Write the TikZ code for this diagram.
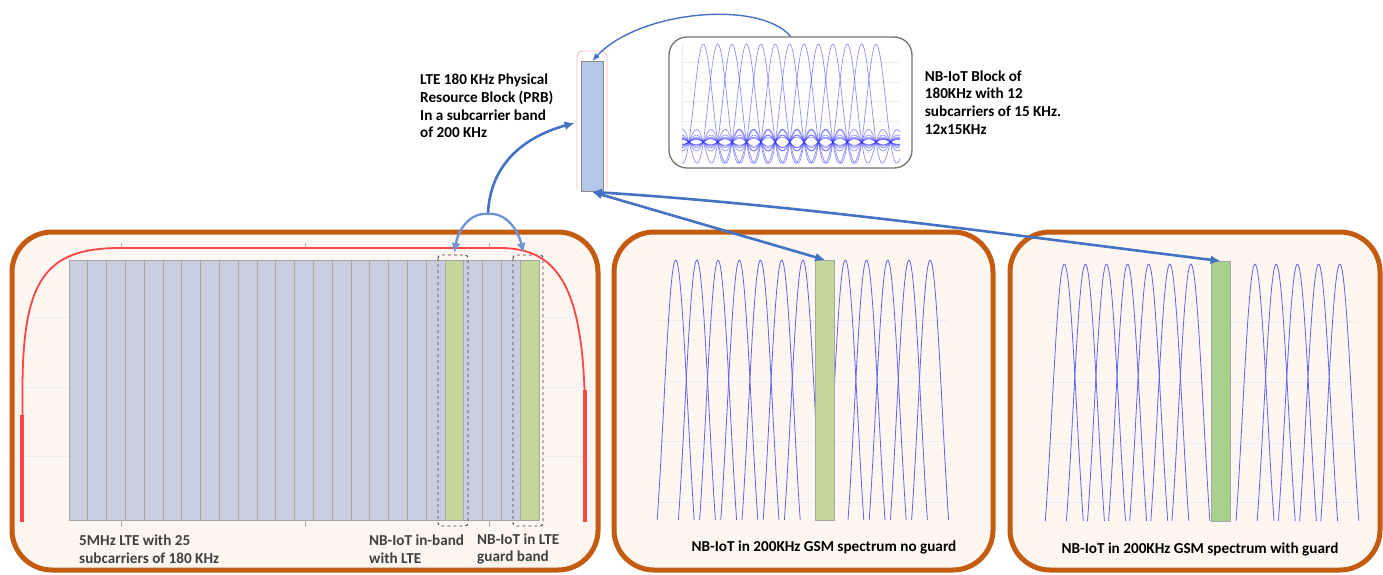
\documentclass[tikz,border=0pt]{standalone}
\usepackage{fontspec}
\setmainfont{Carlito}
\usepackage{tikz}
\usetikzlibrary{arrows.meta,positioning,calc}

\definecolor{panelbrown}{HTML}{C55A11}
\definecolor{panelfill}{HTML}{FEF6F0}
\definecolor{ltebar}{HTML}{C9CEDF}
\definecolor{nbgreen}{HTML}{C3D69B}
\definecolor{nbgreendark}{HTML}{A9D18E}
\definecolor{prbblue}{HTML}{B4C7E7}
\definecolor{arrowblue}{HTML}{4472C4}
\definecolor{arrowlight}{HTML}{7094D4}
\definecolor{maskred}{HTML}{FF4545}
\definecolor{carrier}{HTML}{6060F5}
\definecolor{labelgray}{HTML}{404040}

\tikzset{
  panel/.style={draw=panelbrown, line width=5pt, fill=panelfill, rounded corners=40pt},
  lteslot/.style={draw=black!35, line width=0.8pt, fill=ltebar},
  nbslot/.style={draw=black!35, line width=0.8pt, fill=nbgreen, inner sep=0pt, outer sep=0pt,
    minimum width=19pt, minimum height=260pt},
  dashbox/.style={draw=black!75, dashed, line width=0.9pt, rounded corners=3pt},
  mask/.style={draw=maskred, line width=1.8pt},
  faint/.style={draw=black!7, line width=0.6pt},
  arch/.style={draw=carrier, line width=0.8pt},
  sincline/.style={draw=blue!80, line width=0.7pt, opacity=0.55},
  bigarrow/.style={draw=arrowblue, line width=2.6pt, -{Latex[length=10pt,width=9pt]}},
  branch/.style={draw=arrowlight, line width=2.4pt, -{Latex[length=10pt,width=9pt]}},
  lbl/.style={font=\fontsize{15.2}{17.7}\selectfont\bfseries, align=left, inner sep=0pt}
}

\begin{document}
\begin{tikzpicture}[x=1pt,y=-1pt]
\useasboundingbox (0,0) rectangle (1383,574);

% three spectrum panels
\draw[panel] (12,232) rectangle (598,570);
\draw[panel] (614,232) rectangle (993,570);
\draw[panel] (1010,232) rectangle (1380,570);

% LTE 5 MHz carrier
\foreach \y in {317,387,456} \draw[faint] (22,\y) -- (588,\y);
\foreach \x in {121,305,489} {
  \draw[black!30, line width=0.6pt] (\x,243) -- (\x,249);
  \draw[black!30, line width=0.6pt] (\x,520) -- (\x,527);
}
\foreach \i in {0,...,24} \draw[lteslot] ({69+18.8*\i},260) rectangle ++(18.8,260);
\node[nbslot, minimum width=18.8pt] (inband) at (454.4,390) {};
\node[nbslot, minimum width=18.8pt] (guard) at (529.6,390) {};
\draw[dashbox] (438,255) rectangle (468,526);
\draw[dashbox] (513,255) rectangle (543,526);
\draw[mask] (22.5,522) -- (22.5,390) .. controls (22.5,280) and (45,248) .. (120,248)
  -- (500,248) .. controls (560,248) and (585,290) .. (585,420) -- (585,522);
\draw[mask, line width=3.6pt] (22,415) -- (22,522);
\draw[mask, line width=3.6pt] (585,390) -- (585,522);

\node[lbl, text=labelgray, anchor=west] (lteinfo) at (79,549) {5MHz LTE with 25\\subcarriers of 180 KHz};
\node[lbl, text=labelgray, anchor=west] (inbandinfo) at (369,549) {NB-IoT in-band\\with LTE};
\node[lbl, text=labelgray, anchor=west] (guardinfo) at (477,549) {NB-IoT in LTE\\guard band};

% GSM 200 KHz, no guard
\foreach \y in {320,381,441,502} \draw[faint] (658,\y) -- (948,\y);
\foreach \k in {0,...,6,8,9,10,11,12}
  \draw[arch] plot[domain=-1:1, samples=40, variable=\t]
    ({675.7+21.2*\k+18.5*\t}, {520-260*sin(180*\t)/(pi*\t)});
\node[nbslot] (gsmnoguard) at (825.2,390) {};
\node[lbl, text=black] (noguardinfo) at (824,547) {NB-IoT in 200KHz GSM spectrum no guard};

% GSM 200 KHz, with guard
\foreach \y in {322,382,443,502} \draw[faint] (1045,\y) -- (1358,\y);
\foreach \c in {1064.3,1085.4,1106.5,1127.6,1148.7,1169.8,1190.9,1255,1276.2,1297.4,1318.6,1339.8}
  \draw[arch] plot[domain=-1:1, samples=40, variable=\t]
    ({\c+19*\t}, {521-257*sin(180*\t)/(pi*\t)});
\node[nbslot, fill=nbgreendark, minimum height=260pt] (gsmguard) at (1220.5,391) {};
\node[lbl, text=black] (withguardinfo) at (1200,549) {NB-IoT in 200KHz GSM spectrum with guard};

% PRB and NB-IoT block
\draw[maskred!40, line width=0.8pt] (577,190) -- (577,60) .. controls (577,52) and (579,51) .. (584,51)
  -- (600,51) .. controls (605,51) and (607,52) .. (607,60) -- (607,190);
\node[draw=black!45, line width=0.8pt, fill=prbblue, inner sep=0pt, minimum width=22pt,
  minimum height=130pt] (prb) at (592,126.5) {};
\node[lbl, anchor=north west] (prbinfo) at (420,74) {LTE 180 KHz Physical\\Resource Block (PRB)\\In a subcarrier band\\of 200 KHz};

\node[draw=black!55, line width=1.3pt, fill=white, rounded corners=18pt, inner sep=0pt,
  minimum width=243pt, minimum height=131pt] (nbblock) at (790.5,102.5) {};
\draw[black!8, line width=0.6pt] (682,44) -- (682,160);
\foreach \y in {62,82,101,121} \draw[faint] (682,\y) -- (900,\y);
\foreach \k in {0,...,12}
  \draw[sincline] plot[domain=682:900, samples=160, variable=\t]
    (\t, {142-98*sin(180*((\t-703.3-14.4*\k)/14.4+0.00013))/(pi*((\t-703.3-14.4*\k)/14.4+0.00013))});
\node[lbl, right=12pt of nbblock] (nbinfo) {NB-IoT Block of\\180KHz with 12\\subcarriers of 15 KHz.\\12x15KHz};

% connectors
\draw[arrowblue, line width=1.4pt, -{Latex[length=8pt,width=6pt]}]
  (nbblock.north) .. controls (760,0) and (640,10) .. (prb.north);
\coordinate (split) at (488,214);
\draw[bigarrow] (split) .. controls (490,160) and (530,135) .. ([xshift=-6pt,yshift=3.5pt]prb.west);
\draw[branch] (split) .. controls (470,212) and (458,230) .. ([yshift=7pt]inband.north);
\draw[branch] (split) .. controls (506,212) and (518,230) .. ([xshift=-6pt,yshift=7pt]guard.north);
\draw[bigarrow, {Latex[length=10pt,width=9pt]}-{Latex[length=10pt,width=9pt]}]
  (prb.south) -- (gsmnoguard.north);
\draw[bigarrow, {Latex[length=10pt,width=9pt]}-{Latex[length=10pt,width=9pt]}]
  (prb.south) .. controls (800,205) and (1010,235) .. (gsmguard.north);
\end{tikzpicture}
\end{document}
